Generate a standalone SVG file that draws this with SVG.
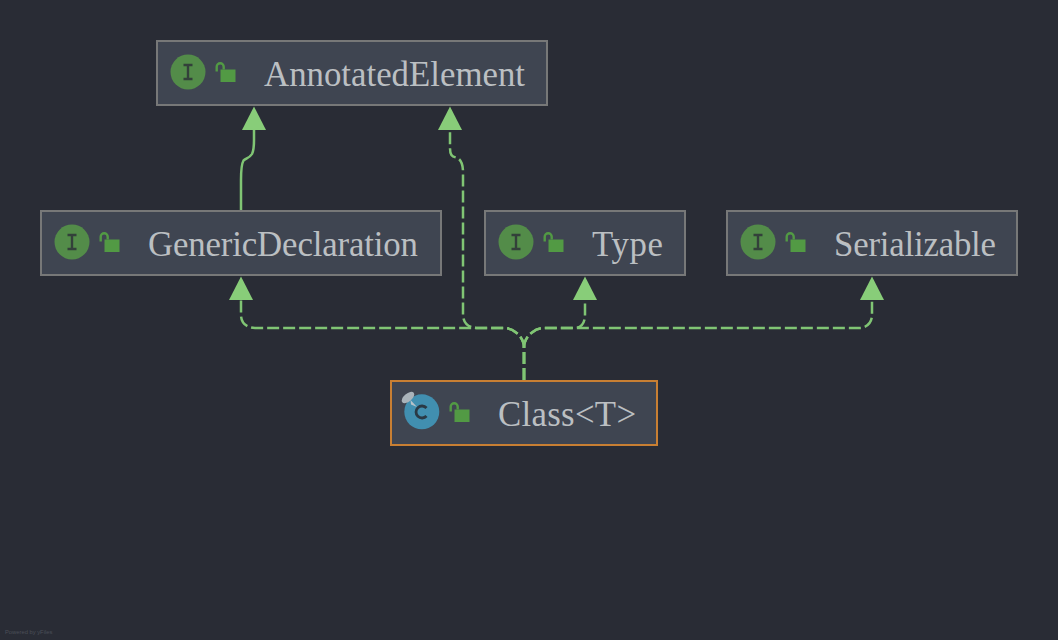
<svg xmlns="http://www.w3.org/2000/svg" width="1058" height="640" viewBox="0 0 1058 640">
<style>
.box{fill:#3f4551;stroke:#777878;stroke-width:2}
.sel{stroke:#c87f33}
.t{font-family:"Liberation Serif","Times New Roman",serif;font-size:34.8px;fill:#bbbfc2}
.e{fill:none;stroke:#80c574;stroke-width:2.5}
.d{stroke-dasharray:12 4}
.ah{fill:#88cd79}
.ig{fill:#538c49}
.lock{fill:#529a44}
.sh{fill:none;stroke:#529a44;stroke-width:2.4}
.pw{font-family:"Liberation Sans",Arial,sans-serif;font-size:5.800px;fill:#4b4f58}
</style>
<defs>
<g id="lk"><rect x="5" y="7.500" width="15" height="12.500" class="lock"/><path d="M1.200 9.500V4.700A3.500 3.500 0 0 1 8.200 4.700V7.500" class="sh"/></g>
<g id="ifc"><circle cx="0" cy="0" r="17.500" class="ig"/><path d="M-4.500-7H4.500M-4.500 7H4.500M0-7V7" fill="none" stroke="#33403a" stroke-width="2.400"/></g>
</defs>
<rect width="1058" height="640" fill="#292c35"/>
<g id="connectors">
<path class="e" d="M241 210V180C241 170 241.500 164 243.500 160.500C246 158.500 250 157.500 252 154C253.500 151 254 148 254 140V128"/>
<path class="e d" d="M524 380V348C524 342 521 336 516 332.500C513 330 510 328 503 328H478C468 328 463 323 463 314V172C463 163 460 158.500 456 157.500C452 156.500 450 155 450 148V128"/>
<path class="e d" d="M524 380V348C524 342 521 336 516 332.500C513 330 510 328 503 328H255C247 328 241 323 241 315V298"/>
<path class="e d" d="M524 380V348C524 342 527 336 532 332.500C535 330 538 328 545 328H575C581 328 585 323 585 315V298"/>
<path class="e d" d="M524 380V348C524 342 527 336 532 332.500C535 330 538 328 545 328H860C866 328 872 323 872 315V298"/>
<path class="ah" d="M254 106.500L242 130H266Z"/>
<path class="ah" d="M450 106.500L438 130H462Z"/>
<path class="ah" d="M241 276.500L229 300H253Z"/>
<path class="ah" d="M585 276.500L573 300H597Z"/>
<path class="ah" d="M872 276.500L860 300H884Z"/>
</g>
<g id="node-annotatedelement">
<rect class="box" x="157" y="41" width="390" height="64"/>
<use href="#ifc" x="188" y="72"/>
<use href="#lk" x="215.500" y="62"/>
<text class="t" x="264" y="86" textLength="261">AnnotatedElement</text>
</g>
<g id="node-genericdeclaration">
<rect class="box" x="41" y="211" width="400" height="64"/>
<use href="#ifc" x="72" y="242"/>
<use href="#lk" x="99.500" y="232"/>
<text class="t" x="148" y="256" textLength="270">GenericDeclaration</text>
</g>
<g id="node-type">
<rect class="box" x="485" y="211" width="200" height="64"/>
<use href="#ifc" x="516" y="242"/>
<use href="#lk" x="543.500" y="232"/>
<text class="t" x="592" y="256" textLength="71">Type</text>
</g>
<g id="node-serializable">
<rect class="box" x="727" y="211" width="290" height="64"/>
<use href="#ifc" x="758" y="242"/>
<use href="#lk" x="785.500" y="232"/>
<text class="t" x="834" y="256" textLength="162">Serializable</text>
</g>
<g id="node-class">
<rect class="box sel" x="391" y="381" width="266" height="64"/>
<circle cx="421.800" cy="411.800" r="17.500" fill="#418fb0"/>
<path d="M426.500 408A6 6 0 1 0 426.500 416" fill="none" stroke="#2a3945" stroke-width="2.800"/>
<path d="M410.500 400L417 407L411 404.500Z" fill="#b7c2c9"/>
<ellipse cx="408" cy="397.500" rx="7.500" ry="4" transform="rotate(-40 408 397.500)" fill="#a9b3ba"/>
<use href="#lk" x="449.500" y="402"/>
<text class="t" x="498" y="426" textLength="138">Class&lt;T&gt;</text>
</g>
<text class="pw" x="5" y="634">Powered by yFiles</text>
</svg>
